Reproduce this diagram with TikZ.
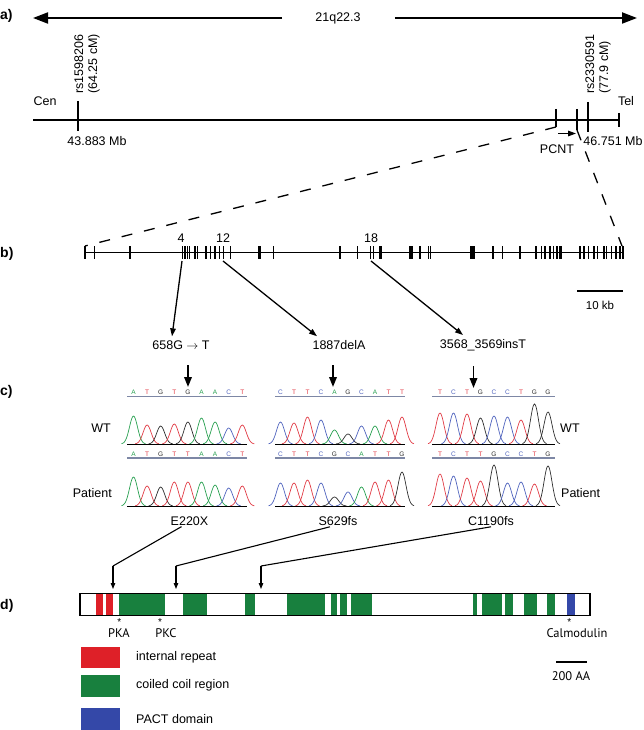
\documentclass[tikz,border=0pt]{standalone}
\usepackage{fontspec}
\setmainfont{Liberation Sans}
\newfontfamily\ptsans{PT Sans}
\usetikzlibrary{arrows.meta,positioning}

\definecolor{repeatred}{RGB}{222,32,40}
\definecolor{coilgreen}{RGB}{24,128,62}
\definecolor{pactblue}{RGB}{52,72,168}
\definecolor{baseA}{RGB}{40,160,80}
\definecolor{baseT}{RGB}{225,60,70}
\definecolor{baseG}{RGB}{45,45,45}
\definecolor{baseC}{RGB}{80,100,190}
\definecolor{seqline}{RGB}{125,135,165}

% letters, trace and baseline of one chromatogram
% #1 x0, #2 x1, #3 first centre, #4 step, #5 letter row y, #6 base y, #7 letter/height
\newcommand{\chromblock}[7]{%
  \foreach \b/\h [count=\i from 0] in {#7}{
    \pgfmathsetmacro{\cx}{#3+\i*#4}
    \node[seqletter, text=base\b] at (\cx,#5) {\b};
    \draw[draw=base\b, line width=0.7pt] plot[domain=-12:12, samples=25, smooth]
      ({\cx+\x},{#6-\h*exp(-(\x)*(\x)/32)});
  }
  \draw[seqline, line width=1.2pt] (#1,#5+4) -- (#2,#5+4);
  \draw[line width=1pt] (#1,#6) -- (#2,#6);
}

\begin{document}
\begin{tikzpicture}[x=1pt, y=-1pt, line cap=butt,
  lbl/.style={font=\fontsize{12.5}{14}\selectfont, inner sep=1pt},
  panel/.style={font=\fontsize{14}{16}\selectfont\bfseries, anchor=west, inner sep=0pt},
  seqletter/.style={font=\fontsize{6.5}{6.5}\selectfont, inner sep=0pt},
  myriad/.style={font=\ptsans\fontsize{12.5}{14}\selectfont, inner sep=1pt},
  star/.style={font=\fontsize{10}{10}\selectfont, inner sep=0pt},
  chromline/.style={line width=1.5pt},
  exontick/.style={line width=1.2pt},
  exonthick/.style={line width=2.6pt},
  zoomline/.style={line width=1.3pt, dash pattern=on 11pt off 12pt},
  bigarrow/.style={line width=2pt, -{Triangle[length=15pt,width=11pt]}},
  mutarrow/.style={line width=1.3pt, -{Triangle[length=8pt,width=5.5pt]}},
  seqarrow/.style={line width=1.8pt, -{Triangle[length=10pt,width=7.5pt]}},
  protarrow/.style={line width=1.1pt, -{Triangle[length=6pt,width=4.5pt]}}]

\useasboundingbox (0,0) rectangle (643,730);

% ---------- a) chromosome 21
\node[panel] (pa) at (0,16) {a)};
\coordinate (arrL) at (33,18);
\coordinate (arrR) at (637,18);
\node[lbl] (band) at (338,18) {21q22.3};
\draw[bigarrow] ([xshift=-32pt]band.west) -- (arrL);
\draw[bigarrow] ([xshift=33pt]band.east) -- (arrR);

\coordinate (cen) at (33,120);
\coordinate (tel) at (619,120);
\draw[chromline] (cen) -- (tel);
\draw[chromline] (619,113) -- (619,127);
\node[lbl] (cenlbl) at (45,101) {Cen};
\node[lbl] (tellbl) at (626,101) {Tel};

% flanking markers
\draw[chromline] (78,101) -- (78,131);
\node[lbl, rotate=90, anchor=west, align=left] (rsL) at (87,95) {rs1598206\\(64.25 cM)};
\node[lbl] (mbL) at (97,141) {43.883 Mb};
\draw[chromline] (588,102) -- (588,132);
\node[lbl, rotate=90, anchor=west, align=left] (rsR) at (598,95) {rs2330591\\(77.9 cM)};
\node[lbl] (mbR) at (613,141) {46.751 Mb};

% PCNT locus
\coordinate (pcntA) at (556,127);
\coordinate (pcntB) at (577,130);
\draw[chromline] (556,109) -- (pcntA);
\draw[chromline] (577,109) -- (pcntB);
\draw[line width=1.3pt, -{Triangle[length=8pt,width=5.5pt]}] (558,133.5) -- (576,133.5);
\node[lbl] (pcnt) at (557,149) {PCNT};

% ---------- b) gene structure
\node[panel] (pb) at (0,254) {b)};
\coordinate (bL) at (85,246);
\coordinate (bR) at (622,246);
\draw[zoomline] (pcntA) -- (bL);
\draw[zoomline] (pcntB) -- (bR);
\draw[chromline] (85,252.5) -- (623,252.5);
\draw[exontick] (bL) -- (85,259);
\draw[exontick] (623,246) -- (623,259);
\foreach \ex in {94.3,130,182.3,185,187.3,189.7,195,197.3,206,210.7,215,219.3,223.3,230.3,
  273.3,340,357.7,370.7,373.3,409.3,420,428.3,430.7,502.3,520,536,541.7,545,550,553.3,
  580,584,588.3,594,597.3,604,606.7,611.7,616,620}
  \draw[exontick] (\ex,246) -- (\ex,259);
\foreach \ex in {259.3,380.7,411.7,471,473.5,493,557,560.7}
  \draw[exonthick] (\ex,246) -- (\ex,259);
\node[lbl] (ex4lbl) at (181,238) {4};
\node[lbl] (ex12lbl) at (223,238) {12};
\node[lbl] (ex18lbl) at (371,238) {18};

\coordinate (kbL) at (577,291);
\coordinate (kbR) at (623,291);
\draw[line width=2pt] (kbL) -- (kbR);
\node[lbl, font=\fontsize{11.5}{13}\selectfont] (kb) at (600,305) {10 kb};

% mutations
\node[lbl] (mut1) at (181,345) {658G $\rightarrow$ T};
\node[lbl] (mut2) at (339,345) {1887delA};
\node[lbl] (mut3) at (483,345) {3568\_3569insT};
\coordinate (ex4) at (182,261);
\coordinate (ex12) at (223,261);
\coordinate (ex18) at (371,261);
\draw[mutarrow] (ex4) -- ([xshift=-9pt,yshift=3pt]mut1.north);
\draw[mutarrow] (ex12) -- ([xshift=-22pt,yshift=3pt]mut2.north);
\draw[mutarrow] (ex18) -- ([xshift=-20pt,yshift=3pt]mut3.north);

% ---------- c) sequence traces
\node[panel] (pc) at (0,392) {c)};
\draw[seqarrow] (188,365) -- (188,387);
\draw[seqarrow] (333,365) -- (333,387);
\draw[seqarrow] (473.5,366) -- (473.5,388);

\chromblock{127}{247}{133.5}{13.6}{392.5}{444}{A/28,T/19,G/18,T/20,G/22,A/26,A/22,C/16,T/19}
\chromblock{127}{247}{133.5}{13.6}{454}{506}{A/29,T/20,G/19,T/24,T/24,A/24,A/21,C/18,T/20}
\chromblock{275}{405}{280.5}{13.5}{392.5}{444}{C/22,T/21,T/27,C/24,A/14,G/10,C/18,A/18,T/24,T/27}
\chromblock{275}{405}{280.5}{13.5}{454}{506}{C/23,T/23,T/26,C/23,G/9,C/14,A/19,T/24,T/26,G/34}
\chromblock{432}{555}{440}{13.5}{392.5}{444}{T/31,C/31,T/30,G/26,C/28,C/27,T/24,G/40,G/32}
\chromblock{432}{555}{440}{13.5}{454}{506}{T/32,C/30,T/28,T/25,G/41,C/23,C/24,T/22,G/40}

\node[lbl, anchor=east] (wtL) at (112,428) {WT};
\node[lbl, anchor=east] (patL) at (113,493) {Patient};
\node[lbl, anchor=west] (wtR) at (559,428) {WT};
\node[lbl, anchor=west] (patR) at (560,493) {Patient};

\node[lbl] (prot1) at (189.5,521) {E220X};
\node[lbl] (prot2) at (338,521) {S629fs};
\node[lbl] (prot3) at (491,521) {C1190fs};

% ---------- d) protein
\node[panel] (pd) at (0,606) {d)};
\coordinate (bend1) at (113,566);
\coordinate (bend2) at (176,566);
\coordinate (bend3) at (261,566);
\draw[line width=1.1pt] ([xshift=-8pt]prot1.south) -- (bend1);
\draw[line width=1.1pt] ([xshift=-8pt]prot2.south) -- (bend2);
\draw[line width=1.1pt] (prot3.south) -- (bend3);
\draw[protarrow] (bend1) -- (113,589);
\draw[protarrow] (bend2) -- (176,589);
\draw[protarrow] (bend3) -- (261,589);

\foreach \s/\e in {96/103.3,105.7/112.7}
  \fill[repeatred] (\s,593.5) rectangle (\e,615.5);
\foreach \s/\e in {119.3/165,183.3/206.7,245/255,286.7/325,330.7/336.7,340/347.3,351/372,
  473.3/476.7,481.7/502.3,505/513.3,524.3/536.7,546.7/555}
  \fill[coilgreen] (\s,593.5) rectangle (\e,615.5);
\fill[pactblue] (566.7,593.5) rectangle (575,615.5);
\draw[line width=1.2pt] (80,593.5) rectangle (590,615.5);

\node[star] (starA) at (119.3,622) {*};
\node[star] (starC) at (160,622) {*};
\node[star] (starM) at (569.3,622) {*};
\node[myriad] (pka) at (119,633) {PKA};
\node[myriad] (pkc) at (166,633) {PKC};
\node[myriad] (calm) at (577,633) {Calmodulin};

% legend
\fill[repeatred] (80.7,646.7) rectangle (120,668.3);
\fill[coilgreen] (80.7,675) rectangle (120,696.7);
\fill[pactblue] (80.7,708.3) rectangle (120,730);
\node[lbl, anchor=west] (legR) at (135,657) {internal repeat};
\node[lbl, anchor=west] (legG) at (135,685) {coiled coil region};
\node[lbl, anchor=west] (legB) at (135,719) {PACT domain};

\coordinate (aaL) at (556,662);
\coordinate (aaR) at (587,662);
\draw[line width=2pt] (aaL) -- (aaR);
\node[myriad] (aa) at (571,676) {200 AA};

\end{tikzpicture}
\end{document}
